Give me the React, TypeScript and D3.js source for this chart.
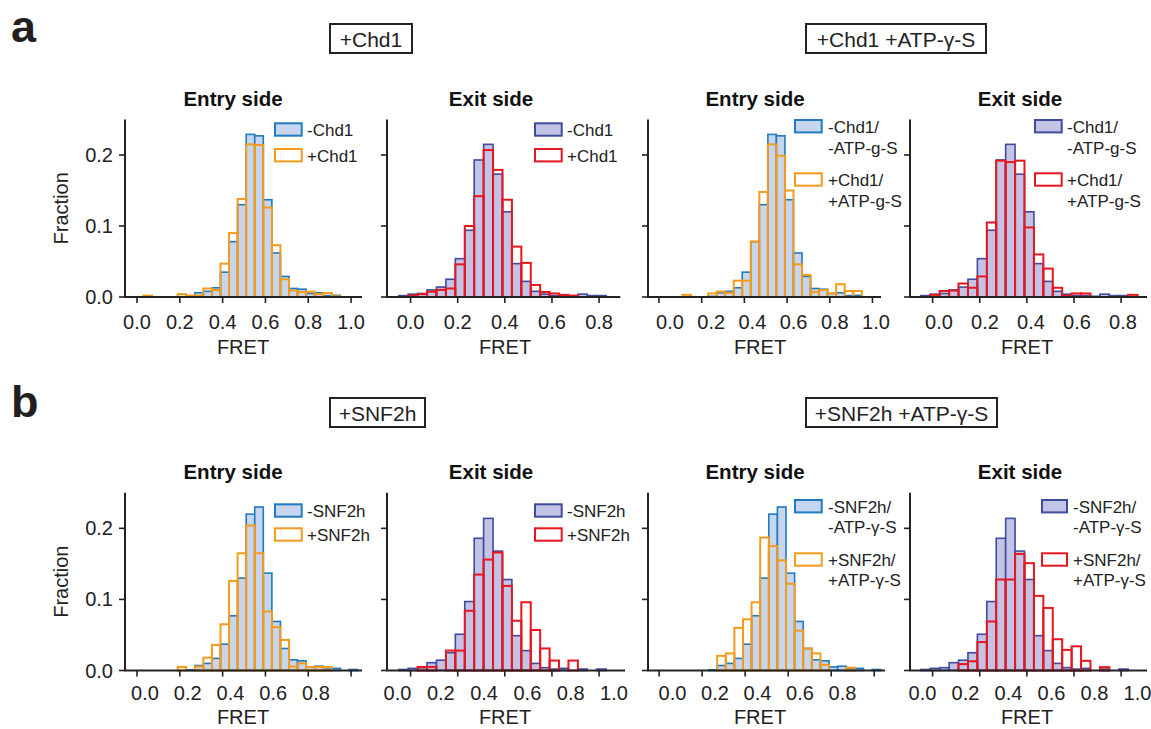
import React from "react";
import * as d3 from "d3";

// Histogram bins: edge_k = BIN_ORIGIN + k*BIN_WIDTH, arrays start at k = FIRST_BIN (27 bins, k=-1..25)
const BIN_ORIGIN = -0.01;
const BIN_WIDTH = 0.04;
const FIRST_BIN = -1;

// Row a (Chd1)
const entryMinusChd1 = [0, 0, 0, 0, 0, 0, 0, 0.001, 0.006, 0.008, 0.013, 0.035, 0.078, 0.13, 0.229, 0.227, 0.137, 0.062, 0.029, 0.012, 0.011, 0.005, 0.006, 0.002, 0.0023, 0, 0];
const entryPlusChd1 = [0, 0, 0.002, 0, 0, 0, 0.004, 0.002, 0.002, 0.012, 0.01, 0.047, 0.09, 0.138, 0.215, 0.214, 0.126, 0.073, 0.025, 0.009, 0.007, 0.0075, 0.004, 0.0056, 0.001, 0, 0];
const exitMinusChd1 = [0.002, 0.004, 0.005, 0.01, 0.014, 0.025, 0.054, 0.094, 0.193, 0.215, 0.173, 0.12, 0.047, 0.022, 0.008, 0.004, 0.002, 0.002, 0.001, 0.004, 0.002, 0.002, 0, 0, 0, 0, 0];
const exitPlusChd1 = [0, 0.002, 0.004, 0.0075, 0.01, 0.012, 0.046, 0.1, 0.142, 0.207, 0.179, 0.137, 0.071, 0.048, 0.017, 0.007, 0.005, 0.003, 0.002, 0, 0, 0, 0, 0, 0, 0, 0];
const entryPlusChd1ATP = [0, 0, 0, 0, 0.003, 0, 0, 0.005, 0.0075, 0.006, 0.023, 0.023, 0.078, 0.148, 0.215, 0.199, 0.15, 0.046, 0.031, 0.007, 0.01, 0.005, 0.018, 0.0085, 0.0085, 0, 0];
const exitPlusChd1ATP = [0, 0.003, 0.0085, 0.009, 0.019, 0.013, 0.029, 0.105, 0.192, 0.19, 0.192, 0.098, 0.06, 0.04, 0.013, 0.002, 0.005, 0.005, 0, 0, 0, 0, 0.003, 0, 0, 0, 0];

// Row b (SNF2h)
const entryMinusSNF2h = [0, 0, 0, 0, 0, 0, 0, 0.001, 0.007, 0.01, 0.017, 0.037, 0.077, 0.13, 0.22, 0.23, 0.137, 0.069, 0.031, 0.015, 0.0136, 0.005, 0.006, 0.002, 0.003, 0, 0.0014];
const entryPlusSNF2h = [0, 0, 0, 0, 0, 0, 0.005, 0, 0.0056, 0.018, 0.036, 0.065, 0.126, 0.165, 0.204, 0.165, 0.083, 0.061, 0.043, 0.0056, 0.01, 0.005, 0.005, 0.005, 0, 0, 0];
const exitMinusSNF2h = [0.0014, 0.003, 0.004, 0.011, 0.0145, 0.025, 0.051, 0.097, 0.186, 0.214, 0.168, 0.128, 0.049, 0.028, 0.01, 0.004, 0.002, 0.003, 0, 0.002, 0, 0.002, 0, 0, 0, 0, 0];
const exitPlusSNF2h = [0, 0, 0.005, 0.005, 0, 0.028, 0.028, 0.084, 0.135, 0.156, 0.166, 0.119, 0.07, 0.096, 0.057, 0.031, 0.014, 0, 0.014, 0, 0, 0, 0, 0, 0, 0, 0];
const entryPlusSNF2hATP = [0, 0, 0, 0, 0, 0, 0, 0, 0.0206, 0.024, 0.06, 0.072, 0.096, 0.187, 0.175, 0.155, 0.122, 0.056, 0.031, 0.024, 0.008, 0, 0, 0.004, 0, 0, 0];
const exitPlusSNF2hATP = [0, 0, 0, 0, 0.009, 0.013, 0.04, 0.069, 0.128, 0.128, 0.164, 0.151, 0.105, 0.088, 0.044, 0.029, 0.034, 0.0136, 0, 0.0047, 0, 0, 0, 0, 0, 0, 0];

const ticks10 = [0, 0.2, 0.4, 0.6, 0.8, 1.0];
const ticks08 = [0, 0.2, 0.4, 0.6, 0.8];
const yTicks = [0, 0.1, 0.2];

const FONT = "'Liberation Sans', Arial, Helvetica, sans-serif";
const BLUE_FILL = "#c6d6ef";
const BLUE = "#1f7ac2";
const ORANGE = "#f59b1c";
const PURPLE_FILL = "#c3c3e5";
const PURPLE = "#3f4c9e";
const RED = "#e8161f";

const ROWS = [
  { base: 297, top: 119.5, titleY: 106, labY: 329, fretY: 354, dy: 0 },
  { base: 670.5, top: 492.8, titleY: 479, labY: 700, fretY: 724, dy: 374 },
];

type Panel = {
  row: number; left: number; right: number; d0: number; d1: number;
  ticks: number[]; labels: number[]; labelRange: [number, number] | null;
  yLabels: boolean; title: string; titleX: number; fretX: number;
  filled: number[]; outline: number[]; fillColor: string; fillStroke: string; outlineColor: string;
  swX: number; swW: number; txX: number;
  legend: { lines: string[]; sy: number }[]; lineGap: number;
};

const panels: Panel[] = [
  { row: 0, left: 125, right: 362, d0: -0.056, d1: 1.051, ticks: ticks10, labels: ticks10, labelRange: null, yLabels: true,
    title: "Entry side", titleX: 233, fretX: 243, filled: entryMinusChd1, outline: entryPlusChd1,
    fillColor: BLUE_FILL, fillStroke: BLUE, outlineColor: ORANGE, swX: 275, swW: 26.7, txX: 307,
    legend: [{ lines: ["-Chd1"], sy: 123.3 }, { lines: ["+Chd1"], sy: 149 }], lineGap: 20 },
  { row: 0, left: 387, right: 620.3, d0: -0.1, d1: 0.89, ticks: ticks08, labels: ticks08, labelRange: null, yLabels: false,
    title: "Exit side", titleX: 491, fretX: 505, filled: exitMinusChd1, outline: exitPlusChd1,
    fillColor: PURPLE_FILL, fillStroke: PURPLE, outlineColor: RED, swX: 535, swW: 26.7, txX: 567,
    legend: [{ lines: ["-Chd1"], sy: 123.3 }, { lines: ["+Chd1"], sy: 149 }], lineGap: 20 },
  { row: 0, left: 648, right: 881, d0: -0.0515, d1: 1.04, ticks: ticks10, labels: ticks10, labelRange: [670, 876], yLabels: false,
    title: "Entry side", titleX: 755, fretX: 760, filled: entryMinusChd1, outline: entryPlusChd1ATP,
    fillColor: BLUE_FILL, fillStroke: BLUE, outlineColor: ORANGE, swX: 795, swW: 26.7, txX: 828,
    legend: [{ lines: ["-Chd1/", "-ATP-g-S"], sy: 120 }, { lines: ["+Chd1/", "+ATP-g-S"], sy: 173.3 }], lineGap: 21 },
  { row: 0, left: 910, right: 1147, d0: -0.096, d1: 0.91, ticks: ticks08, labels: ticks08, labelRange: [939, 1123], yLabels: false,
    title: "Exit side", titleX: 1020, fretX: 1027, filled: exitMinusChd1, outline: exitPlusChd1ATP,
    fillColor: PURPLE_FILL, fillStroke: PURPLE, outlineColor: RED, swX: 1035, swW: 26.7, txX: 1067,
    legend: [{ lines: ["-Chd1/", "-ATP-g-S"], sy: 120 }, { lines: ["+Chd1/", "+ATP-g-S"], sy: 173.3 }], lineGap: 21 },
  { row: 1, left: 125, right: 362, d0: -0.056, d1: 1.051, ticks: ticks10, labels: ticks08, labelRange: [145, 316], yLabels: true,
    title: "Entry side", titleX: 233, fretX: 243, filled: entryMinusSNF2h, outline: entryPlusSNF2h,
    fillColor: BLUE_FILL, fillStroke: BLUE, outlineColor: ORANGE, swX: 275, swW: 26.7, txX: 307,
    legend: [{ lines: ["-SNF2h"], sy: 504.3 }, { lines: ["+SNF2h"], sy: 528.3 }], lineGap: 19 },
  { row: 1, left: 387, right: 625, d0: -0.1, d1: 0.91, ticks: ticks08, labels: ticks10, labelRange: [397.5, 614], yLabels: false,
    title: "Exit side", titleX: 491, fretX: 505, filled: exitMinusSNF2h, outline: exitPlusSNF2h,
    fillColor: PURPLE_FILL, fillStroke: PURPLE, outlineColor: RED, swX: 535, swW: 26.7, txX: 567,
    legend: [{ lines: ["-SNF2h"], sy: 504.3 }, { lines: ["+SNF2h"], sy: 528.3 }], lineGap: 19 },
  { row: 1, left: 648, right: 885, d0: -0.0515, d1: 1.05, ticks: ticks10, labels: ticks08, labelRange: [672.5, 842.5], yLabels: false,
    title: "Entry side", titleX: 755, fretX: 760, filled: entryMinusSNF2h, outline: entryPlusSNF2hATP,
    fillColor: BLUE_FILL, fillStroke: BLUE, outlineColor: ORANGE, swX: 795, swW: 26.7, txX: 828,
    legend: [{ lines: ["-SNF2h/", "-ATP-\u03b3-S"], sy: 500 }, { lines: ["+SNF2h/", "+ATP-\u03b3-S"], sy: 553.3 }], lineGap: 19.5 },
  { row: 1, left: 910, right: 1147, d0: -0.096, d1: 0.91, ticks: ticks08, labels: ticks10, labelRange: [922.5, 1137.5], yLabels: false,
    title: "Exit side", titleX: 1020, fretX: 1027, filled: exitMinusSNF2h, outline: exitPlusSNF2hATP,
    fillColor: PURPLE_FILL, fillStroke: PURPLE, outlineColor: RED, swX: 1042, swW: 25, txX: 1073,
    legend: [{ lines: ["-SNF2h/", "-ATP-\u03b3-S"], sy: 500 }, { lines: ["+SNF2h/", "+ATP-\u03b3-S"], sy: 553.3 }], lineGap: 19.5 },
];

const boxes = [
  { text: "+Chd1", x0: 330, x1: 412, row: 0 },
  { text: "+Chd1 +ATP-\u03b3-S", x0: 806, x1: 986, row: 0 },
  { text: "+SNF2h", x0: 330, x1: 425, row: 1 },
  { text: "+SNF2h +ATP-\u03b3-S", x0: 806, x1: 997, row: 1 },
];

const fmt = d3.format(".1f");

function Bars({ data, xs, ys, base, fill, stroke, d0, sw }: any) {
  return (
    <g>
      {data.map((v: number, i: number) => {
        if (v <= 0) return null;
        const e0 = BIN_ORIGIN + (i + FIRST_BIN) * BIN_WIDTH;
        if (e0 < d0 - 1e-9) return null;
        const x0 = xs(e0);
        const x1 = xs(e0 + BIN_WIDTH);
        const y = ys(v);
        return (
          <rect key={i} x={x0} y={y} width={x1 - x0} height={base - y}
            fill={fill} stroke={stroke} strokeWidth={sw} />
        );
      })}
    </g>
  );
}

function PanelView({ p }: { p: Panel }) {
  const r = ROWS[p.row];
  const xs = d3.scaleLinear().domain([p.d0, p.d1]).range([p.left, p.right]);
  const ys = d3.scaleLinear().domain([0, 0.25]).range([r.base, r.top]);
  const ls = p.labelRange
    ? d3.scaleLinear().domain([p.labels[0], p.labels[p.labels.length - 1]]).range(p.labelRange)
    : xs;
  return (
    <g>
      <Bars data={p.filled} xs={xs} ys={ys} base={r.base} fill={p.fillColor} stroke={p.fillStroke} d0={p.d0} sw={1.6} />
      <Bars data={p.outline} xs={xs} ys={ys} base={r.base} fill="none" stroke={p.outlineColor} d0={p.d0} sw={2} />
      <line x1={p.left} x2={p.left} y1={r.top} y2={r.base} stroke="#222" strokeWidth={2} />
      <line x1={p.left - 1} x2={p.right} y1={r.base} y2={r.base} stroke="#222" strokeWidth={2} />
      {yTicks.map((t) => (
        <line key={"yt" + t} x1={p.left - 6} x2={p.left} y1={ys(t)} y2={ys(t)} stroke="#222" strokeWidth={1.6} />
      ))}
      {p.yLabels && yTicks.map((t) => (
        <text key={"yl" + t} x={113} y={ys(t)} dy="0.35em" textAnchor="end" fontSize={20} fontFamily={FONT} fill="#222">{fmt(t)}</text>
      ))}
      {p.ticks.map((t) => (
        <line key={"xt" + t} x1={xs(t)} x2={xs(t)} y1={r.base} y2={r.base + 6} stroke="#222" strokeWidth={1.6} />
      ))}
      {p.labels.map((t) => (
        <text key={"xl" + t} x={ls(t)} y={r.labY} textAnchor="middle" fontSize={20} fontFamily={FONT} fill="#222">{fmt(t)}</text>
      ))}
      <text x={p.fretX} y={r.fretY} textAnchor="middle" fontSize={20} fontFamily={FONT} fill="#222">FRET</text>
      <text x={p.titleX} y={r.titleY} textAnchor="middle" fontSize={20.5} fontWeight="bold" fontFamily={FONT} fill="#111">{p.title}</text>
      {p.legend.map((e, i) => (
        <g key={"lg" + i}>
          <rect x={p.swX} y={e.sy} width={p.swW} height={12.4}
            fill={i === 0 ? p.fillColor : "#fff"} stroke={i === 0 ? p.fillStroke : p.outlineColor} strokeWidth={2} />
          {e.lines.map((ln, j) => (
            <text key={j} x={p.txX} y={e.sy + 13 + j * p.lineGap} fontSize={17} fontFamily={FONT} fill="#222">{ln}</text>
          ))}
        </g>
      ))}
    </g>
  );
}

export default function App() {
  return (
    <div style={{ position: "fixed", left: 0, top: 0 }}>
      <svg width={1151} height={729} viewBox="0 0 1151 729" style={{ display: "block", background: "#fff" }}>
        <rect width={1151} height={729} fill="#fff" />
        <text x={11} y={42} fontSize={45} fontWeight="bold" fontFamily={FONT} fill="#231f20">a</text>
        <text x={11} y={417} fontSize={45} fontWeight="bold" fontFamily={FONT} fill="#231f20">b</text>
        {boxes.map((b, i) => {
          const dy = ROWS[b.row].dy;
          return (
            <g key={"bx" + i}>
              <rect x={b.x0} y={24 + dy} width={b.x1 - b.x0} height={29} fill="#fff" stroke="#222" strokeWidth={2} />
              <text x={(b.x0 + b.x1) / 2} y={46.5 + dy} textAnchor="middle" fontSize={21} fontFamily={FONT} fill="#222">{b.text}</text>
            </g>
          );
        })}
        {ROWS.map((r, i) => (
          <text key={"fr" + i} transform={`translate(68,${(r.base + r.top) / 2}) rotate(-90)`}
            textAnchor="middle" fontSize={20} fontFamily={FONT} fill="#222">Fraction</text>
        ))}
        {panels.map((p, i) => <PanelView key={i} p={p} />)}
      </svg>
    </div>
  );
}
